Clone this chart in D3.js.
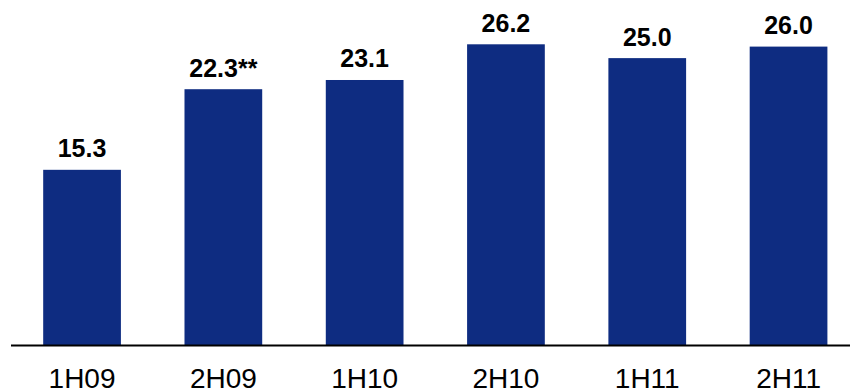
<!DOCTYPE html>
<html>
<head>
<meta charset="utf-8">
<script src="https://cdn.jsdelivr.net/npm/d3@7"></script>
<style>
  html, body { margin: 0; padding: 0; background: #ffffff; }
  svg { display: block; }
</style>
</head>
<body>
<svg id="chart" width="850" height="392"></svg>
<script>
// Half-year periods and their values
const categories = ["1H09", "2H09", "1H10", "2H10", "1H11", "2H11"];
const values = [15.3, 22.3, 23.1, 26.2, 25.0, 26.0];
const valueLabels = ["15.3", "22.3**", "23.1", "26.2", "25.0", "26.0"];

const width = 850, height = 392;
const baseline = 346;

const svg = d3.select("#chart");

const x = d3.scaleBand()
  .domain(categories)
  .range([11.4, 859.2])
  .paddingInner(0.45)
  .paddingOuter(0.225);

const y = d3.scaleLinear()
  .domain([0, 26.2])
  .range([baseline, 44.3]);

// Bars
svg.append("g")
  .selectAll("rect")
  .data(values)
  .join("rect")
  .attr("x", (d, i) => x(categories[i]))
  .attr("y", d => y(d))
  .attr("width", x.bandwidth())
  .attr("height", d => baseline - y(d))
  .attr("fill", "#0e2c81");

// Value labels above bars
svg.append("g")
  .selectAll("text")
  .data(values)
  .join("text")
  .attr("x", (d, i) => x(categories[i]) + x.bandwidth() / 2)
  .attr("y", d => y(d) - 12.5)
  .attr("text-anchor", "middle")
  .attr("font-family", "Liberation Sans, Arial, sans-serif")
  .attr("font-weight", "bold")
  .attr("font-size", 25)
  .attr("fill", "#000")
  .text((d, i) => valueLabels[i]);

// Baseline axis with category labels
const axis = d3.axisBottom(x).tickSize(0).tickPadding(0);
const g = svg.append("g")
  .attr("transform", `translate(0,${baseline - 0.5})`)
  .call(axis);
g.select(".domain").remove();
g.append("line")
  .attr("x1", 11).attr("x2", width)
  .attr("y1", 0).attr("y2", 0)
  .attr("stroke", "#000")
  .attr("stroke-width", 2.2);
g.selectAll(".tick text")
  .attr("y", 0)
  .attr("dy", 0)
  .attr("transform", "translate(0,42.5)")
  .attr("font-family", "Liberation Sans, Arial, sans-serif")
  .attr("font-size", 28)
  .attr("fill", "#000");
</script>
</body>
</html>
